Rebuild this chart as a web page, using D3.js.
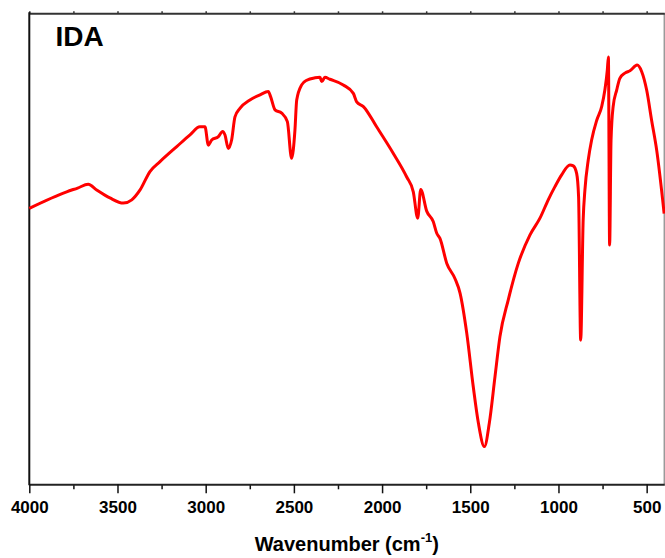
<!DOCTYPE html>
<html lang="en">
<head>
  <meta charset="UTF-8">
  <title>IDA FTIR</title>
  <style>
    body { margin: 0; background: #fff; }
    svg { display: block; font-family: "Liberation Sans", Arial, sans-serif; }
  </style>
</head>
<body>
  <svg class="ftir"></svg>
  <script src="https://cdn.jsdelivr.net/npm/d3@7"></script>
  <script>
    // wavenumber (cm-1) and transmittance (%)
    var wavenumber = [4000, 3788, 3726, 3666, 3618, 3543, 3467, 3419, 3372, 3316,
      3259, 3164, 3089, 3033, 3004, 2985, 2966, 2928, 2904, 2891,
      2872, 2853, 2834, 2806, 2749, 2692, 2645, 2632, 2607, 2569,
      2537, 2513, 2494, 2484, 2456, 2427, 2380, 2352, 2342, 2324,
      2296, 2220, 2163, 2144, 2106, 2031, 1937, 1861, 1823, 1798,
      1781, 1747, 1710, 1690, 1672, 1633, 1587, 1558, 1520, 1483,
      1454, 1420, 1392, 1360, 1332, 1285, 1228, 1162, 1105, 1058,
      1020, 982, 935, 916, 897, 886, 874, 860, 850, 831,
      812, 783, 755, 737, 723, 717, 710, 702, 690, 670,
      652, 623, 595, 554, 528, 500, 472, 443, 401];
    var transmittance = [58.6, 62.1, 62.9, 63.7, 62.5, 60.8, 59.7, 60.4, 62.5, 66.4,
      68.5, 71.7, 74.2, 75.9, 75.9, 72.0, 73.1, 73.8, 74.9, 74.2,
      71.3, 73.1, 78.0, 79.8, 81.6, 82.7, 83.4, 82.3, 79.5, 78.8,
      77.0, 69.2, 75.2, 81.6, 84.8, 85.8, 86.3, 86.4, 85.5, 86.4,
      86.0, 84.8, 83.0, 81.2, 80.2, 75.9, 70.3, 65.3, 62.1, 56.5,
      62.6, 58.0, 55.8, 53.3, 52.2, 46.9, 43.7, 40.6, 32.1, 20.7,
      13.0, 8.0, 13.0, 22.8, 31.3, 39.1, 46.9, 52.9, 56.5, 60.4,
      63.2, 65.7, 67.8, 67.6, 66.0, 61.1, 30.6, 56.1, 62.5, 68.9,
      73.1, 77.3, 80.2, 83.7, 88.0, 90.7, 50.8, 73.0, 80.2, 83.7,
      86.2, 87.3, 87.8, 89.0, 87.6, 83.7, 77.3, 70.9, 57.5];
    var majorTicks = [4000, 3500, 3000, 2500, 2000, 1500, 1000, 500];
    var minorTicks = [3750, 3250, 2750, 2250, 1750, 1250, 750];

    var svgWidth = 665, svgHeight = 558;
    var plotLeft = 29.3, plotRight = 664.3, plotTop = 13.3, plotBottom = 484.3;

    var svg = d3.select('svg')
      .attr('width', svgWidth)
      .attr('height', svgHeight);

    var xScale = d3.scaleLinear()
      .domain([4000, 400])
      .range([plotLeft, plotRight]);

    var yScale = d3.scaleLinear()
      .domain([0, 100])
      .range([plotBottom, plotTop]);

    var points = wavenumber.map(function (w, i) {
      return { w: w, t: transmittance[i] };
    });

    // frame: right side grey, top thin with tiny ticks
    svg.append('line')
      .attr('x1', plotRight).attr('x2', plotRight).attr('y1', plotTop).attr('y2', plotBottom)
      .attr('stroke', '#9a9a9a').attr('stroke-width', 1.5);

    var topAxis = svg.append('g')
      .attr('transform', 'translate(0,' + plotTop + ')')
      .call(d3.axisTop(xScale).tickValues(majorTicks.concat(minorTicks))
        .tickSize(2).tickSizeOuter(0).tickFormat(''));
    topAxis.select('.domain').attr('stroke', '#333').attr('stroke-width', 2);
    topAxis.selectAll('.tick line').attr('stroke', '#333').attr('stroke-width', 1.5);

    svg.append('line')
      .attr('x1', plotLeft).attr('x2', plotLeft).attr('y1', plotTop - 1).attr('y2', plotBottom + 1)
      .attr('stroke', '#111').attr('stroke-width', 2);

    // bottom axis, major + minor ticks
    var minorAxis = svg.append('g')
      .attr('transform', 'translate(0,' + plotBottom + ')')
      .call(d3.axisBottom(xScale).tickValues(minorTicks)
        .tickSize(5).tickSizeOuter(0).tickFormat(''));
    minorAxis.select('.domain').remove();
    minorAxis.selectAll('.tick line').attr('stroke', '#111').attr('stroke-width', 1.5);

    var xAxis = svg.append('g')
      .attr('transform', 'translate(0,' + plotBottom + ')')
      .call(d3.axisBottom(xScale).tickValues(majorTicks)
        .tickSize(9).tickSizeOuter(0).tickPadding(8).tickFormat(d3.format('d')));
    xAxis.select('.domain').attr('stroke', '#222').attr('stroke-width', 2);
    xAxis.selectAll('.tick line').attr('stroke', '#111').attr('stroke-width', 1.5);
    xAxis.selectAll('.tick text')
      .attr('fill', '#000')
      .style('font-size', '17px')
      .style('font-weight', 'bold')
      .style('font-family', '"Liberation Sans", Arial, sans-serif');

    // spectrum
    var line = d3.line()
      .x(function (d) { return xScale(d.w); })
      .y(function (d) { return yScale(d.t); })
      .curve(d3.curveMonotoneX);

    svg.append('path')
      .datum(points)
      .attr('d', line)
      .attr('fill', 'none')
      .attr('stroke', '#ff0000')
      .attr('stroke-width', 3)
      .attr('stroke-linejoin', 'round');

    // labels
    svg.append('text')
      .attr('x', 55.5)
      .attr('y', 46)
      .attr('font-size', 28)
      .attr('font-weight', 'bold')
      .text('IDA');

    var title = svg.append('text')
      .attr('x', (plotLeft + plotRight) / 2)
      .attr('y', 551)
      .attr('text-anchor', 'middle')
      .attr('font-size', 20)
      .attr('font-weight', 'bold');
    title.append('tspan').text('Wavenumber (cm');
    title.append('tspan').attr('dy', -9).attr('font-size', 13).text('-1');
    title.append('tspan').attr('dy', 9).text(')');
  </script>
</body>
</html>
